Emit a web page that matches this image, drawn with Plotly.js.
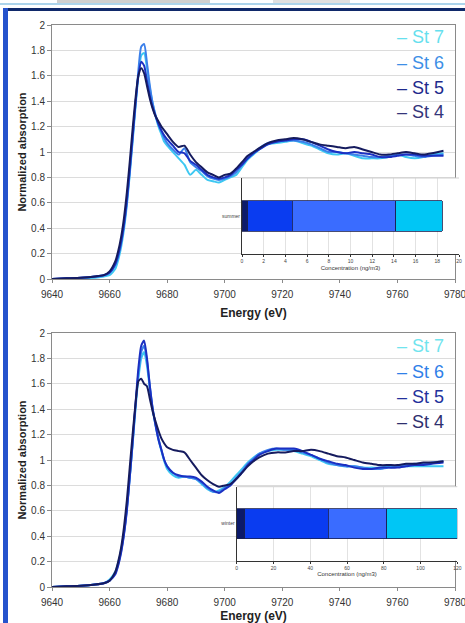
<!DOCTYPE html>
<html>
<head>
<meta charset="utf-8">
<script src="https://cdn.plot.ly/plotly-3.0.1.min.js"></script>
<style>html,body{margin:0;padding:0;background:#fff;}#chart{width:465px;height:623px;}</style>
</head>
<body>
<div id="chart"></div>
<script>
// ---------- DATA ----------
const energy = [9640,9645,9650,9655,9658,9660,9662,9663,9664,9665,9666,9667,9668,9669,9670,9671,9672,9673,9674,9675,9676,9677,9678,9679,9680,
  9682,9684,9686,9688,9690,9692,9694,9696,9698,9700,9702,9704,9706,9708,9710,9712,9715,9718,9721,9724,9727,9730,9733,9736,9739,9742,9745,9748,9751,9754,9757,9760,9763,9766,9769,9772,9776];
const energyTicks = [9640,9660,9680,9700,9720,9740,9760,9780];

const stations = ["St 7","St 6","St 5","St 4"];

// Summer (top panel)
const summerSt4 = [0,0.005,0.01,0.02,0.03,0.06,0.14,0.22,0.33,0.48,0.68,0.92,1.18,1.42,1.6,1.66,1.62,1.52,1.42,1.34,1.28,1.24,1.2,1.17,1.14,
  1.08,1.04,1.05,0.98,0.92,0.88,0.84,0.82,0.8,0.82,0.83,0.87,0.92,0.97,1.0,1.03,1.07,1.09,1.1,1.11,1.1,1.08,1.06,1.05,1.04,1.03,1.04,1.02,1.0,0.98,0.98,0.99,1.0,0.99,0.98,0.99,1.01];
const summerSt5 = [0,0.005,0.01,0.02,0.03,0.05,0.12,0.19,0.29,0.43,0.62,0.86,1.12,1.38,1.6,1.71,1.68,1.56,1.44,1.35,1.28,1.22,1.17,1.13,1.1,
  1.05,1.0,0.99,0.93,0.9,0.86,0.82,0.8,0.79,0.8,0.82,0.86,0.9,0.95,0.99,1.02,1.06,1.08,1.09,1.1,1.1,1.08,1.05,1.02,1.0,0.99,1.0,0.99,0.98,0.96,0.96,0.97,0.98,0.98,0.97,0.97,0.97];
const summerSt6 = [0,0.005,0.01,0.02,0.03,0.05,0.11,0.18,0.28,0.42,0.6,0.84,1.1,1.38,1.64,1.83,1.85,1.7,1.52,1.38,1.29,1.22,1.16,1.11,1.07,
  1.02,0.98,1.03,0.92,0.88,0.85,0.81,0.79,0.78,0.79,0.81,0.84,0.9,0.95,0.99,1.03,1.07,1.08,1.09,1.09,1.08,1.06,1.03,1.0,1.0,0.99,0.98,0.97,0.96,0.96,0.97,0.98,0.98,0.97,0.96,0.97,0.98];
const summerSt7 = [0,0.0,0.005,0.01,0.02,0.03,0.08,0.15,0.25,0.39,0.58,0.82,1.08,1.35,1.6,1.76,1.78,1.66,1.5,1.38,1.28,1.2,1.14,1.08,1.05,
  1.0,0.95,0.9,0.82,0.86,0.82,0.78,0.77,0.76,0.78,0.8,0.82,0.88,0.94,0.98,1.02,1.06,1.07,1.08,1.09,1.07,1.05,1.02,0.99,0.98,0.99,0.97,0.95,0.95,0.95,0.96,0.98,0.96,0.95,0.96,0.98,0.99];

// Winter (bottom panel)
const winterSt4 = [0,0.005,0.01,0.02,0.03,0.05,0.12,0.2,0.31,0.47,0.68,0.94,1.2,1.44,1.62,1.64,1.6,1.58,1.48,1.38,1.3,1.23,1.17,1.13,1.1,
  1.08,1.07,1.06,1.0,0.94,0.88,0.84,0.81,0.79,0.8,0.81,0.85,0.9,0.95,0.99,1.02,1.05,1.06,1.06,1.07,1.07,1.08,1.07,1.05,1.03,1.02,1.0,0.98,0.97,0.96,0.96,0.96,0.97,0.97,0.98,0.98,0.99];
const winterSt5 = [0,0.005,0.01,0.02,0.03,0.05,0.1,0.17,0.27,0.41,0.6,0.86,1.14,1.44,1.72,1.9,1.94,1.8,1.58,1.4,1.27,1.16,1.08,1.0,0.95,
  0.9,0.88,0.87,0.87,0.86,0.83,0.79,0.76,0.74,0.77,0.8,0.85,0.9,0.96,1.0,1.04,1.07,1.09,1.09,1.09,1.07,1.04,1.01,0.99,0.97,0.96,0.94,0.93,0.93,0.94,0.94,0.94,0.95,0.96,0.96,0.97,0.98];
const winterSt6 = [0,0.005,0.01,0.02,0.03,0.05,0.11,0.18,0.28,0.42,0.61,0.86,1.13,1.42,1.68,1.85,1.9,1.78,1.58,1.4,1.28,1.17,1.08,1.0,0.95,
  0.9,0.87,0.87,0.86,0.85,0.82,0.78,0.75,0.75,0.78,0.81,0.86,0.91,0.97,1.01,1.05,1.08,1.09,1.08,1.08,1.06,1.04,1.01,0.98,0.96,0.95,0.95,0.94,0.93,0.93,0.94,0.95,0.96,0.97,0.97,0.98,0.99];
const winterSt7 = [0,0.005,0.01,0.02,0.03,0.06,0.12,0.19,0.29,0.43,0.62,0.86,1.12,1.4,1.64,1.8,1.85,1.74,1.56,1.39,1.27,1.16,1.07,0.99,0.93,
  0.88,0.86,0.87,0.86,0.85,0.81,0.77,0.75,0.76,0.79,0.83,0.88,0.93,0.98,1.02,1.05,1.07,1.08,1.08,1.07,1.05,1.03,1.0,0.97,0.96,0.95,0.95,0.94,0.94,0.94,0.95,0.95,0.95,0.95,0.95,0.95,0.95];

// Inset bar charts: concentration (ng/m3) per station
const barStations = ["St 4","St 5","St 6","St 7"];
const summerConc = [0.55, 4.1, 9.5, 4.3];
const winterConc = [4.3, 45.6, 31.7, 38.4];
const summerLabel = ["summer"];
const winterLabel = ["winter"];

// ---------- STYLE ----------
const W = 465, H = 623;
const px = x => x / W;
const py = y => 1 - y / H;

const lineColors = {"St 4":"#151b5e","St 5":"#1b30c2","St 6":"#3c80ea","St 7":"#3ec8f2"};
const barColors = {"St 4":"#0c1a6a","St 5":"#0a3cf0","St 6":"#3a6cff","St 7":"#00c6f5"};
const legendColorsTop = {"St 7":"#66dfee","St 6":"#3d8fe6","St 5":"#1e2a8c","St 4":"#34357a"};
const legendColorsBot = {"St 7":"#70e4ee","St 6":"#2f80e8","St 5":"#23319c","St 4":"#2e2f6e"};

const summerSeries = {"St 4":summerSt4,"St 5":summerSt5,"St 6":summerSt6,"St 7":summerSt7};
const winterSeries = {"St 4":winterSt4,"St 5":winterSt5,"St 6":winterSt6,"St 7":winterSt7};

const traces = [];
stations.forEach(s => {
  traces.push({type:"scatter", mode:"lines", x:energy, y:summerSeries[s], xaxis:"x", yaxis:"y",
    line:{color:lineColors[s], width:2, shape:"spline", smoothing:0.6}, name:s, hoverinfo:"skip"});
});
stations.forEach(s => {
  traces.push({type:"scatter", mode:"lines", x:energy, y:winterSeries[s], xaxis:"x2", yaxis:"y2",
    line:{color:lineColors[s], width:2, shape:"spline", smoothing:0.6}, name:s, hoverinfo:"skip"});
});
barStations.forEach((s,i) => {
  traces.push({type:"bar", orientation:"h", x:[summerConc[i]], y:summerLabel, xaxis:"x3", yaxis:"y3", width:0.4,
    marker:{color:barColors[s], line:{color:"#1a2050", width:0.8}}, name:s, hoverinfo:"skip"});
});
barStations.forEach((s,i) => {
  traces.push({type:"bar", orientation:"h", x:[winterConc[i]], y:winterLabel, xaxis:"x4", yaxis:"y4", width:0.4,
    marker:{color:barColors[s], line:{color:"#1a2050", width:0.8}}, name:s, hoverinfo:"skip"});
});

const font = "Liberation Sans, Arial, sans-serif";
const mainX = (anchor) => ({
  domain:[px(52), px(455)], range:[9640,9780], tickmode:"array", tickvals:energyTicks, ticktext:energyTicks.map(String),
  anchor:anchor, ticklabeloverflow:"allow",
  showgrid:false, zeroline:false, showline:true, linecolor:"#8a8a8a", linewidth:1, mirror:true,
  ticks:"outside", ticklen:3, tickcolor:"#8a8a8a", ticklabelstandoff:3,
  tickfont:{family:font, size:10, color:"#333"},
  title:{text:"Energy (eV)", font:{family:font, size:12, color:"#222", weight:"bold"}, standoff:9}
});
const mainY = (anchor, dom) => ({
  domain:dom, range:[0,2], dtick:0.2, tick0:0, anchor:anchor,
  showgrid:true, gridcolor:"#dcdcdc", gridwidth:1, zeroline:false,
  showline:true, linecolor:"#8a8a8a", linewidth:1, mirror:true,
  ticks:"outside", ticklen:4, tickcolor:"#8a8a8a",
  tickfont:{family:font, size:10, color:"#333"},
  title:{text:"Normalized absorption", font:{family:font, size:11, color:"#222", weight:"bold"}, standoff:2}
});
const insetX = (anchor, dom, max, dt) => ({
  domain:dom, range:[0,max], dtick:dt, tick0:0, anchor:anchor, ticklabeloverflow:"allow",
  showgrid:true, gridcolor:"#e2e2e2", gridwidth:1, zeroline:false,
  showline:true, linecolor:"#333", linewidth:1,
  ticks:"outside", ticklen:2, tickcolor:"#333",
  tickfont:{family:font, size:5, color:"#444"},
  title:{text:"Concentration (ng/m3)", font:{family:font, size:6, color:"#333"}, standoff:2}
});
const insetY = (anchor, dom) => ({
  domain:dom, type:"category", range:[-0.5,0.5], anchor:anchor,
  showgrid:false, zeroline:false, showline:true, linecolor:"#333", linewidth:1,
  ticks:"", tickfont:{family:font, size:5, color:"#444"}
});

const annotations = [];
const legTopY = [37, 63, 88, 112];
const legBotY = [346, 372, 397, 422];
stations.forEach((s,i) => {
  annotations.push({xref:"paper", yref:"paper", x:px(446), y:py(legTopY[i]), xanchor:"right", yanchor:"middle",
    text:"– " + s, showarrow:false, font:{family:font, size:18, color:legendColorsTop[s]}});
  annotations.push({xref:"paper", yref:"paper", x:px(446), y:py(legBotY[i]), xanchor:"right", yanchor:"middle",
    text:"– " + s, showarrow:false, font:{family:font, size:18, color:legendColorsBot[s]}});
});

const shapes = [
  // frame decoration
  {type:"rect", xref:"paper", yref:"paper", x0:px(57), x1:px(210), y0:py(0), y1:py(3), fillcolor:"#cfcfcf", line:{width:0}, layer:"below"},
  {type:"rect", xref:"paper", yref:"paper", x0:px(273), x1:px(350), y0:py(0), y1:py(3), fillcolor:"#e0e0e0", line:{width:0}, layer:"below"},
  {type:"line", xref:"paper", yref:"paper", x0:0, x1:1, y0:py(4), y1:py(4), line:{color:"#5aaad8", width:1.2}},
  {type:"rect", xref:"paper", yref:"paper", x0:px(4), x1:1, y0:py(8), y1:py(11), fillcolor:"#10296a", line:{width:0}},
  {type:"rect", xref:"paper", yref:"paper", x0:px(3), x1:px(8), y0:py(8), y1:0, fillcolor:"#2553cc", line:{width:0}},
  // inset frames (light top border)
  {type:"line", xref:"paper", yref:"paper", x0:px(242), x1:px(459), y0:py(178), y1:py(178), line:{color:"#cfcfcf", width:1}},
  {type:"line", xref:"paper", yref:"paper", x0:px(236.7), x1:px(457.3), y0:py(486.7), y1:py(486.7), line:{color:"#cfcfcf", width:1}}
];

const layout = {
  width:W, height:H, margin:{l:0,r:0,t:0,b:0},
  paper_bgcolor:"#ffffff", plot_bgcolor:"#ffffff",
  showlegend:false, barmode:"stack", bargap:0.6,
  xaxis: mainX("y"),
  yaxis: mainY("x", [py(279), py(25)]),
  xaxis2: mainX("y2"),
  yaxis2: mainY("x2", [py(587), py(333)]),
  xaxis3: insetX("y3", [px(242), px(459)], 20, 2),
  yaxis3: insetY("x3", [py(254), py(178)]),
  xaxis4: insetX("y4", [px(236.7), px(457.3)], 120, 20),
  yaxis4: insetY("x4", [py(560.7), py(486.7)]),
  annotations: annotations,
  shapes: shapes
};

Plotly.newPlot("chart", traces, layout, {staticPlot:true, displayModeBar:false});
</script>
</body>
</html>
